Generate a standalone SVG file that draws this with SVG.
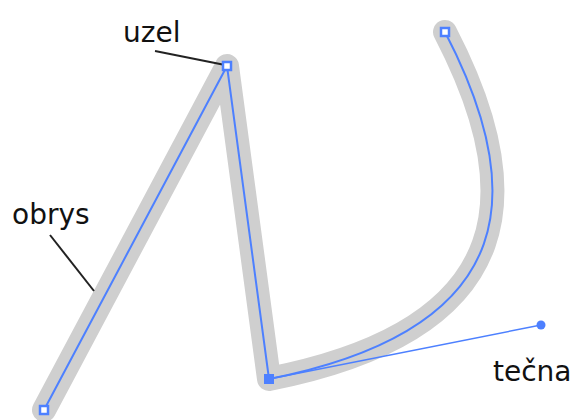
<svg xmlns="http://www.w3.org/2000/svg" width="577" height="420" viewBox="0 0 577 420">
<style>
.lbl{font-family:"DejaVu Sans",sans-serif;font-size:28px;fill:#111}
.lead{stroke:#222;stroke-width:2;fill:none}
.node{fill:#fff;stroke:#4d80ff;stroke-width:2.5}
</style>
<rect width="577" height="420" fill="#fff"/>
<g id="outline">
<path d="M44,410 L227,66 L269,379 C527,328 525,186 445,32" fill="none" stroke="#cfcfcf" stroke-width="24" stroke-linejoin="round" stroke-linecap="round"/>
</g>
<g id="connectors">
<path d="M44,410 L227,66 L269,379 C527,328 525,186 445,32" fill="none" stroke="#4d80ff" stroke-width="2"/>
<line x1="269" y1="379" x2="541" y2="325" stroke="#4d80ff" stroke-width="1.5"/>
<line class="lead" x1="155" y1="51" x2="225" y2="65"/>
<line class="lead" x1="50" y1="235" x2="94" y2="291"/>
</g>
<g id="node-start"><rect class="node" x="40" y="406" width="8" height="8"/></g>
<g id="node-top"><rect class="node" x="223" y="62" width="8" height="8"/></g>
<g id="node-end"><rect class="node" x="441" y="28" width="8" height="8"/></g>
<g id="node-corner"><rect x="264" y="374" width="10" height="10" fill="#4d80ff"/></g>
<g id="handle"><circle cx="541" cy="325" r="4.5" fill="#4d80ff"/></g>
<g id="label-uzel"><text class="lbl" x="123" y="42">uzel</text></g>
<g id="label-obrys"><text class="lbl" x="12" y="224">obrys</text></g>
<g id="label-tecna"><text class="lbl" x="493" y="381">tečna</text></g>
</svg>
